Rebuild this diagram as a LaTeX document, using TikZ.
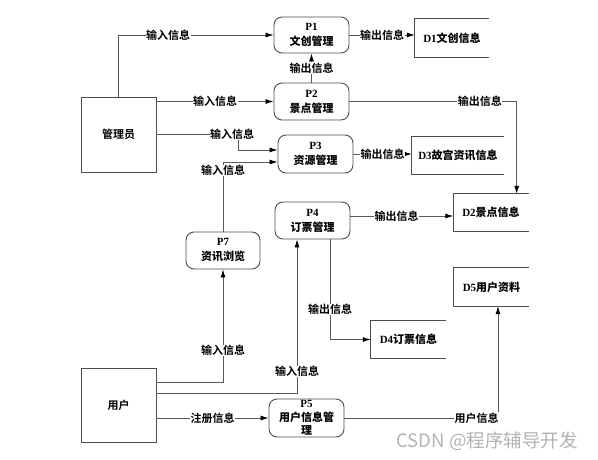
\documentclass[tikz,border=0pt]{standalone}
\usepackage{fontspec}
\setmainfont{Liberation Serif}
\newfontfamily\zh{Noto Sans CJK SC Bold}
\newfontfamily\wmfont{Noto Sans CJK SC}
\usetikzlibrary{arrows.meta,positioning,calc}
\tikzset{
  proc/.style={rectangle, rounded corners=8pt, draw=black!70, line width=0.9pt, align=center,
    minimum width=75pt, minimum height=37pt, inner sep=1pt, font=\fontsize{11pt}{15pt}\selectfont\bfseries},
  ext/.style={rectangle, draw=black!70, line width=0.9pt, minimum width=75pt, minimum height=75pt,
    font=\zh\fontsize{11pt}{13pt}\selectfont},
  store/.style={rectangle, minimum width=75pt, minimum height=37pt, inner sep=1pt,
    font=\fontsize{11pt}{13pt}\selectfont\bfseries},
  storeline/.style={draw=black!70, line width=0.9pt},
  flow/.style={-{Latex[length=8pt, width=5pt, color=black]}, line width=0.8pt, draw=black!65},
  lbl/.style={fill=white, inner sep=0.5pt, font=\zh\fontsize{11pt}{13pt}\selectfont},
  wmark/.style={font=\wmfont\fontsize{18.5pt}{18.5pt}\selectfont, text=black!30},
}

\begin{document}
\begin{tikzpicture}[x=1pt, y=-1pt]
  \useasboundingbox (0,0) rectangle (598,459);
  % external entities
  \node[ext] (mgr) at (118.5,134.5) {管理员};
  \node[ext, minimum height=74pt] (usr) at (118.5,405) {用户};
  % processes
  \node[proc, minimum height=36pt] (p1) at (311.5,35) {P1\\{\zh 文创管理}};
  \node[proc] (p2) at (311.5,101.5) {P2\\{\zh 景点管理}};
  \node[proc, minimum height=38pt] (p3) at (315.5,154) {P3\\{\zh 资源管理}};
  \node[proc] (p4) at (312.5,220.5) {P4\\{\zh 订票管理}};
  \node[proc, minimum width=74pt] (p7) at (223,250.5) {P7\\{\zh 资讯浏览}};
  \node[proc, minimum height=38pt, inner sep=0pt, font=\fontsize{11pt}{13.5pt}\selectfont\bfseries]
    (p5) at (306.5,418) {P5\\{\zh 用户信息管}\\{\zh 理}};
  % data stores
  \node[store, minimum width=74pt, minimum height=38pt] (d1) at (452,38) {D1{\zh 文创信息}};
  \node[store] (d2) at (491,212.5) {D2{\zh 景点信息}};
  \node[store, minimum width=92pt] (d3) at (458,155.5) {D3{\zh 故宫资讯信息}};
  \node[store] (d4) at (408.5,339.5) {D4{\zh 订票信息}};
  \node[store, minimum height=38pt] (d5) at (491.5,287) {D5{\zh 用户资料}};
  \foreach \d in {d1,d2,d3,d4,d5}
    \draw[storeline] (\d.north east) -| (\d.south west) -- (\d.south east);

  % flows of the manager
  \draw[flow] (mgr.north) |- node[lbl, pos=0.66]{输入信息} (p1.west);
  \draw[flow] (mgr.east |- p2.west) -- node[lbl]{输入信息} (p2.west);
  \coordinate (m3) at (238,150);
  \draw[flow] (mgr.east) -| node[lbl, pos=0.5, xshift=-6pt]{输入信息} (m3) -- (m3 -| p3.west);
  \coordinate (m7) at (223,162);
  \draw[flow] (p7.north) -- node[lbl, pos=0.88]{输入信息} (m7) -- (m7 -| p3.west);

  % outputs
  \draw[flow] (p2.north) -- node[lbl]{输出信息} (p1.south);
  \draw[flow] (p1.east) -- node[lbl]{输出信息} (p1.east -| d1.west);
  \draw[flow] (p2.east) -| node[lbl, pos=0.39]{输出信息} ([xshift=-12pt]d2.north east);
  \draw[flow] (p3.east) -- node[lbl]{输出信息} (p3.east -| d3.west);
  \coordinate (p4o) at ([yshift=4.5pt]p4.east);
  \draw[flow] (p4o) -- node[lbl, pos=0.45]{输出信息} (p4o -| d2.west);
  \draw[flow] ([xshift=17.5pt]p4.south) |- node[lbl, pos=0.35]{输出信息} (d4.west);

  % flows of the user
  \draw[flow] ([yshift=23pt]usr.east) -| node[lbl, pos=0.64]{输入信息} (p7.south);
  \draw[flow] ([yshift=12pt]usr.east) -| node[lbl, pos=0.57]{输入信息} ([xshift=-15.5pt]p4.south);
  \draw[flow] (usr.east |- p5.west) -- node[lbl]{注册信息} (p5.west);
  \draw[flow] (p5.east) -| node[lbl, pos=0.5, anchor=east, xshift=1.5pt]{用户信息} ([xshift=6.5pt]d5.south);

  \node[wmark] (wm) at (487,441) {CSDN @程序辅导开发};
\end{tikzpicture}
\end{document}
